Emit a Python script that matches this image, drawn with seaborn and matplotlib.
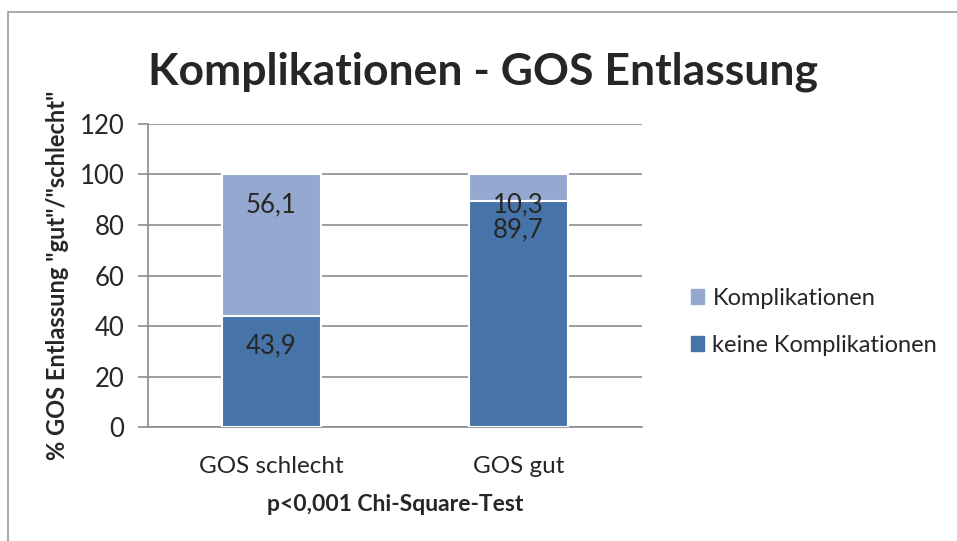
import numpy as np
import pandas as pd
import seaborn as sns
import matplotlib.pyplot as plt
from matplotlib.patches import Rectangle

categories = ["GOS schlecht", "GOS gut"]
keine = [43.9, 89.7]
kompl = [56.1, 10.3]
yticks = [0, 20, 40, 60, 80, 100, 120]

dark = "#4674a8"
light = "#95a9d0"
grid_col = "#8c8c8c"

sns.set_style("white")
plt.rcParams["font.family"] = ["Lato", "DejaVu Sans"]

df = pd.DataFrame({"cat": categories, "keine": keine, "kompl": kompl})
df["total"] = df["keine"] + df["kompl"]

fig = plt.figure(figsize=(9.57, 5.41), dpi=100)
ax = fig.add_axes([0.1547, 0.2107, 0.5161, 0.5601])

# chart frame (cut off on the right/bottom like the screenshot)
fig.patches.append(Rectangle((8 / 957, -0.1), 1.2, 1 - 12 / 541 + 0.1,
                             transform=fig.transFigure, fill=False,
                             edgecolor="#9a9a9a", linewidth=1.2))

sns.barplot(data=df, x="cat", y="total", color=light, width=0.4,
            edgecolor="white", linewidth=1.5, saturation=1, ax=ax, zorder=3)
sns.barplot(data=df, x="cat", y="keine", color=dark, width=0.4,
            edgecolor="white", linewidth=1.5, saturation=1, ax=ax, zorder=4)

# value labels, just under the top of each segment
for i in range(len(categories)):
    ax.annotate(f"{kompl[i]:.1f}".replace(".", ","), (i, df["total"][i]),
                xytext=(0, -22), textcoords="offset points",
                ha="center", va="center", fontsize=18.5, zorder=5)
    ax.annotate(f"{keine[i]:.1f}".replace(".", ","), (i, keine[i]),
                xytext=(0, -21), textcoords="offset points",
                ha="center", va="center", fontsize=18.5, zorder=5)

ax.set_xlim(-0.5, 1.5)
ax.set_ylim(0, 120)
ax.set_yticks(yticks)
ax.yaxis.grid(True, color=grid_col, linewidth=1.2)
ax.set_axisbelow(True)
sns.despine(ax=ax, top=True, right=True)
ax.spines["left"].set_color(grid_col)
ax.spines["bottom"].set_color(grid_col)
ax.spines["left"].set_linewidth(1.2)
ax.spines["bottom"].set_linewidth(1.2)
ax.tick_params(axis="y", length=7, color=grid_col, width=1.2, labelsize=18.5,
               pad=10, left=True)
ax.tick_params(axis="x", length=0, labelsize=17.5, pad=21)

ax.set_xlabel("p<0,001 Chi-Square-Test", fontsize=16.5, fontweight="bold",
              labelpad=12)
ax.set_ylabel('% GOS Entlassung "gut"/"schlecht"', fontsize=17,
              fontweight="bold", labelpad=8)
fig.text(0.505, 0.868, "Komplikationen - GOS Entlassung", ha="center",
         va="center", fontsize=32, fontweight="bold")

handles = [Rectangle((0, 0), 1, 1, color=light), Rectangle((0, 0), 1, 1, color=dark)]
fig.legend(handles, ["Komplikationen", "keine Komplikationen"],
           loc="center left", bbox_to_anchor=(0.7, 0.405), frameon=False,
           fontsize=17, handlelength=0.55, handleheight=0.55, handletextpad=0.35,
           labelspacing=1.1)

fig.savefig("out.png", dpi=100, facecolor="white")
